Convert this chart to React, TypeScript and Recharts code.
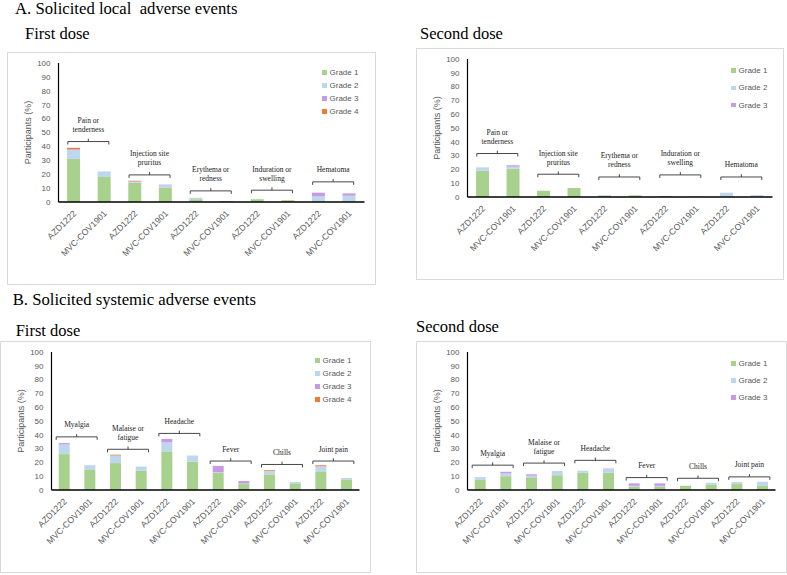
import React from 'react';
import { BarChart, Bar, XAxis, YAxis, Legend, Label } from 'recharts';

const SANS = '"Liberation Sans", Arial, sans-serif';
const SERIF = '"Liberation Serif", "Times New Roman", serif';

const vaccines = ['AZD1222', 'MVC-COV1901'];
const gradeNames = ['Grade 1', 'Grade 2', 'Grade 3', 'Grade 4'];
const gradeColors = ['#A9D18E', '#BDD7EE', '#C59BE3', '#ED7D31'];
const yTicks = [0, 10, 20, 30, 40, 50, 60, 70, 80, 90, 100];

const localEvents = ['Pain or\ntenderness', 'Injection site\npruritus', 'Erythema or\nredness', 'Induration or\nswelling', 'Hematoma'];
const systemicEvents = ['Myalgia', 'Malaise or\nfatigue', 'Headache', 'Fever', 'Chills', 'Joint pain'];

// each array: AZD1222, MVC-COV1901 for every event, in order
const localFirstG1 = [31, 18, 14, 10.5, 2, 0.7, 2, 1.3, 0.5, 0.5];
const localFirstG2 = [6.5, 4, 0.5, 1.5, 1, 0, 0, 0, 3.5, 4];
const localFirstG3 = [0.5, 0, 0.5, 0.5, 0, 0, 0, 0, 2.7, 1.7];
const localFirstG4 = [1, 0, 0.3, 0, 0, 0, 0, 0, 0, 0];

const localSecondG1 = [19, 20.5, 4.5, 6.5, 1, 1.2, 0.8, 0.3, 0.3, 0.2];
const localSecondG2 = [2.5, 1.5, 0, 0, 0.5, 0, 0, 0, 2.8, 1.2];
const localSecondG3 = [0, 1, 0, 0, 0, 0, 0, 0, 0, 0];

const systemicFirstG1 = [26, 15, 19.5, 14, 28, 20.5, 12.5, 4.3, 11.3, 4.8, 13.5, 7.7];
const systemicFirstG2 = [7, 3, 5.5, 3, 6.5, 4.5, 0.3, 0.4, 2.4, 1, 3.5, 1];
const systemicFirstG3 = [1, 0, 0, 0, 2.5, 0, 4.7, 1.8, 0.3, 0, 0.5, 0];
const systemicFirstG4 = [0, 0, 0.6, 0, 0, 0, 0, 0, 0.5, 0, 0.5, 0];

const systemicSecondG1 = [7.3, 10, 9.2, 10.7, 12.5, 12.5, 2.4, 2.2, 3.1, 4, 4.3, 3.3];
const systemicSecondG2 = [2, 2, 1.2, 3.1, 1.5, 2.5, 0.6, 0.8, 0, 1.2, 1.5, 2.7];
const systemicSecondG3 = [0, 1.2, 1, 0, 0, 0.5, 1.8, 1.8, 0, 0, 0, 0];

// height (in %) of the bracket over each event pair
const localFirstBrackets = [43.5, 19.5, 8, 8.5, 14.5];
const localSecondBrackets = [31.5, 16.5, 14.5, 16, 14.5];
const systemicFirstBrackets = [38.5, 29.5, 41, 21, 18.5, 21];
const systemicSecondBrackets = [18, 19.5, 21.5, 9, 8.5, 9.5];

const GAP = 0.28;

function XTick(props: any) {
  const { x, y, payload } = props;
  const tx = x + 3;
  const ty = y + 12;
  return (
    <text x={tx} y={ty} transform={`rotate(-45 ${tx} ${ty})`} textAnchor="end"
      fontFamily={SANS} fontSize={8.7} fill="#595959">
      {payload.value}
    </text>
  );
}

const makeBracket = (events: string[]) => (p: any) => {
  const { x, y, width, index } = p;
  if (index % 2 !== 0) return <g />;
  const band = width / (1 - 2 * GAP);
  const cx = x + width / 2 + band / 2;
  const lines = events[index / 2].split('\n');
  const hw = 20.5;
  return (
    <g>
      <path d={`M${cx - hw},${y + 3}V${y}H${cx + hw}V${y + 3}M${cx},${y}V${y - 2.8}`}
        stroke="#333" strokeWidth={0.9} fill="none" />
      {lines.map((t, j) => (
        <text key={j} x={cx} y={y - 9.5 - (lines.length - 1 - j) * 9} textAnchor="middle"
          fontFamily={SERIF} fontSize={7.5} fill="#1a1a1a">{t}</text>
      ))}
    </g>
  );
};

function Panel({ events, grades, brackets, box, legendRow, legendTop }: any) {
  const data = events.flatMap((_: string, e: number) =>
    vaccines.map((v, k) => {
      const i = e * 2 + k;
      const row: any = { name: v };
      let total = 0;
      grades.forEach((g: number[], gi: number) => {
        row[`g${gi + 1}`] = g[i];
        total += g[i];
      });
      row.gap = brackets[e] - total;
      return row;
    })
  );
  const w = box.w - 2;
  const h = box.h - 2;
  return (
    <div style={{ position: 'absolute', left: box.left, top: box.top, width: box.w, height: box.h,
      border: '1px solid #d9d9d9', boxSizing: 'border-box', background: '#fff' }}>
      <BarChart width={w} height={h} data={data} barCategoryGap="28%"
        margin={{ top: 10, right: 10.5, left: 0, bottom: 0 }}>
        <XAxis dataKey="name" interval={0} tickLine={false} tickSize={0} tickMargin={0} height={82}
          axisLine={{ stroke: '#000', strokeWidth: 1.3 }} tick={<XTick />} />
        <YAxis domain={[0, 100]} ticks={yTicks} interval={0} width={50.5} tickLine={false}
          axisLine={{ stroke: '#000', strokeWidth: 1.2 }}
          tick={{ fontSize: 8, fill: '#595959', fontFamily: SANS }}>
          <Label value="Participants (%)" angle={-90} position="insideLeft" offset={19.5}
            style={{ textAnchor: 'middle', fontSize: 9, fill: '#595959', fontFamily: SANS }} />
        </YAxis>
        <Legend layout="vertical" align="center" verticalAlign="middle"
          wrapperStyle={{ top: legendTop, left: 314, width: 60 }}
          content={() => (
            <div style={{ fontFamily: SANS, fontSize: 8, color: '#595959' }}>
              {grades.map((_: any, gi: number) => (
                <div key={gi} style={{ height: legendRow, display: 'flex', alignItems: 'center' }}>
                  <span style={{ width: 4.5, height: 4.5, background: gradeColors[gi], marginRight: 3 }} />
                  {gradeNames[gi]}
                </div>
              ))}
            </div>
          )} />
        {grades.map((_: any, gi: number) => (
          <Bar key={gi} dataKey={`g${gi + 1}`} stackId="s" fill={gradeColors[gi]} isAnimationActive={false} />
        ))}
        <Bar dataKey="gap" stackId="s" fill="none" legendType="none" isAnimationActive={false}
          shape={makeBracket(events)} />
      </BarChart>
    </div>
  );
}

export default function App() {
  return (
    <div style={{ position: 'absolute', left: 0, top: 0, width: 787, height: 575, background: '#fff', overflow: 'hidden' }}>
      <svg width={787} height={575} style={{ position: 'absolute', left: 0, top: 0 }}>
        <g fontFamily={SERIF} fill="#000">
          <text x={15} y={13.5} fontSize={16.7} style={{ whiteSpace: 'pre' }}>A. Solicited local  adverse events</text>
          <text x={25} y={39.3} fontSize={16.5}>First dose</text>
          <text x={420} y={39.3} fontSize={16.5}>Second dose</text>
          <text x={12.7} y={305} fontSize={16.7}>B. Solicited systemic adverse events</text>
          <text x={15.7} y={336} fontSize={16.5}>First dose</text>
          <text x={416} y={332.3} fontSize={16.5}>Second dose</text>
        </g>
      </svg>
      <Panel events={localEvents} grades={[localFirstG1, localFirstG2, localFirstG3, localFirstG4]}
        brackets={localFirstBrackets} box={{ left: 7, top: 52, w: 369, h: 233 }} legendRow={13} legendTop={13.2} />
      <Panel events={localEvents} grades={[localSecondG1, localSecondG2, localSecondG3]}
        brackets={localSecondBrackets} box={{ left: 416, top: 48, w: 368, h: 232 }} legendRow={17.3} legendTop={13} />
      <Panel events={systemicEvents} grades={[systemicFirstG1, systemicFirstG2, systemicFirstG3, systemicFirstG4]}
        brackets={systemicFirstBrackets} box={{ left: 0, top: 341, w: 371, h: 232 }} legendRow={13} legendTop={12.2} />
      <Panel events={systemicEvents} grades={[systemicSecondG1, systemicSecondG2, systemicSecondG3]}
        brackets={systemicSecondBrackets} box={{ left: 416, top: 341, w: 371, h: 232 }} legendRow={17.2} legendTop={12.7} />
    </div>
  );
}
